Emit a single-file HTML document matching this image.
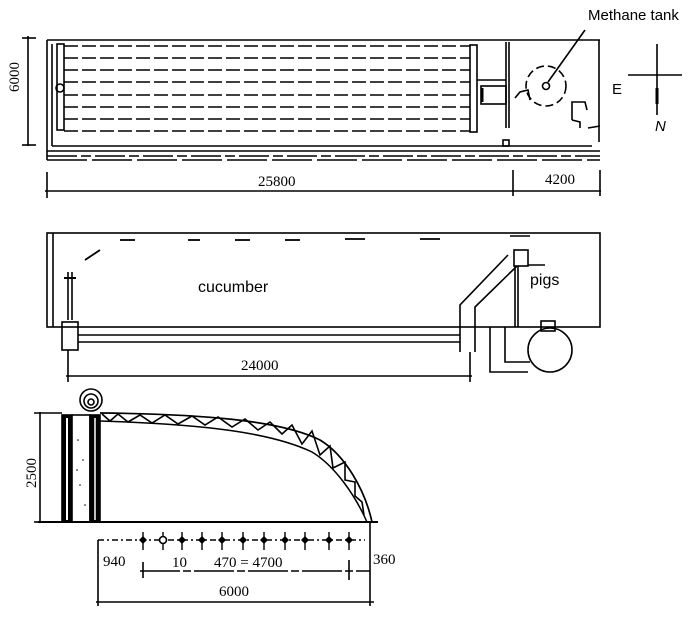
<!DOCTYPE html>
<html><head><meta charset="utf-8"><style>
html,body{margin:0;padding:0;background:#fff;}
svg{display:block;}
.s{font-family:"Liberation Serif",serif;font-size:15px;fill:#000;}
.a{font-family:"Liberation Sans",sans-serif;fill:#000;}
</style></head><body>
<svg width="695" height="619" viewBox="0 0 695 619" xmlns="http://www.w3.org/2000/svg" fill="none" stroke="#000" stroke-width="1.6">
<!-- TOP VIEW -->
<line x1="28" y1="36" x2="28" y2="146"/>
<line x1="22" y1="38" x2="36" y2="38"/><line x1="22" y1="145" x2="36" y2="145"/>
<text class="s" transform="translate(19,92) rotate(-90)" stroke="none">6000</text>
<line x1="47" y1="40" x2="600" y2="40"/>
<line x1="47" y1="40" x2="47" y2="160"/>
<line x1="599" y1="40" x2="599" y2="142"/>
<line x1="52" y1="44" x2="52" y2="146"/>
<line x1="52" y1="146" x2="592" y2="146"/>
<line x1="47" y1="151" x2="600" y2="151"/>
<line x1="47" y1="156" x2="600" y2="156" stroke-dasharray="30 4 10 4"/>
<line x1="47" y1="160" x2="600" y2="160" stroke-dasharray="40 5"/>
<rect x="57" y="44" width="7" height="86"/>
<circle cx="60" cy="88" r="4"/>
<g stroke-dasharray="14 4" stroke-width="1.6">
<line x1="64" y1="46" x2="470" y2="46"/><line x1="64" y1="58" x2="470" y2="58"/>
<line x1="64" y1="70" x2="470" y2="70"/><line x1="64" y1="82" x2="470" y2="82"/>
<line x1="64" y1="95" x2="470" y2="95"/><line x1="64" y1="107" x2="470" y2="107"/>
<line x1="64" y1="119" x2="470" y2="119"/><line x1="64" y1="131" x2="470" y2="131"/>
</g>
<rect x="470" y="45" width="7" height="87"/>
<line x1="506" y1="42" x2="506" y2="128"/><line x1="509" y1="42" x2="509" y2="128"/>
<line x1="477" y1="80" x2="506" y2="80"/>
<rect x="481" y="86" width="25" height="18"/>
<line x1="482" y1="88" x2="482" y2="102" stroke-width="3"/>
<rect x="503" y="140" width="6" height="6"/>
<circle cx="546" cy="86" r="20" stroke-dasharray="8 4"/>
<circle cx="546" cy="86" r="3.5"/>
<line x1="548" y1="82" x2="585" y2="30"/>
<path d="M515 98 L520 92 L528 90 L530 100"/>
<path d="M572 120 L572 102 L585 102 L587 110 M572 120 L580 122 L580 128 M588 128 L600 126"/>
<text class="a" x="588" y="20" font-size="15" stroke="none">Methane tank</text>
<text class="a" x="612" y="94" font-size="15" stroke="none">E</text>
<line x1="628" y1="75" x2="682" y2="75"/>
<line x1="657" y1="44" x2="657" y2="115"/>
<line x1="657" y1="88" x2="657" y2="104" stroke-width="3"/>
<text class="a" x="655" y="131" font-size="15" font-style="italic" stroke="none">N</text>
<line x1="45" y1="191" x2="601" y2="191"/>
<line x1="47" y1="172" x2="47" y2="198"/><line x1="513" y1="170" x2="513" y2="196"/><line x1="600" y1="170" x2="600" y2="196"/>
<text class="s" x="258" y="186" stroke="none">25800</text>
<text class="s" x="545" y="184" stroke="none">4200</text>

<!-- SIDE VIEW -->
<rect x="47" y="233" width="553" height="94"/>
<line x1="53" y1="233" x2="53" y2="327"/>
<g stroke-width="1.8">
<line x1="120" y1="240" x2="135" y2="240"/><line x1="188" y1="240" x2="200" y2="240"/>
<line x1="235" y1="240" x2="250" y2="240"/><line x1="285" y1="240" x2="300" y2="240"/>
<line x1="345" y1="239" x2="365" y2="239"/><line x1="420" y1="239" x2="440" y2="239"/>
<path d="M85 260 L100 250"/>
</g>
<line x1="68" y1="272" x2="68" y2="320"/><line x1="72" y1="272" x2="72" y2="320"/>
<line x1="64" y1="278" x2="76" y2="278" stroke-width="2"/>
<rect x="62" y="322" width="16" height="28"/>
<line x1="78" y1="335" x2="460" y2="335"/>
<line x1="78" y1="342" x2="460" y2="342"/>
<path d="M460 352 L460 305 L508 255"/>
<path d="M475 352 L475 307 L517 266"/>
<line x1="515" y1="266" x2="515" y2="327"/><line x1="518" y1="266" x2="518" y2="327"/>
<rect x="514" y="250" width="14" height="16"/>
<line x1="528" y1="265" x2="545" y2="265"/>
<line x1="510" y1="236" x2="530" y2="236"/>
<text class="a" x="198" y="292" font-size="16" stroke="none">cucumber</text>
<text class="a" x="530" y="285" font-size="16" stroke="none">pigs</text>
<path d="M490 327 L490 372 L528 372"/>
<path d="M505 327 L505 362 L530 362"/>
<circle cx="550" cy="350" r="22"/>
<rect x="541" y="321" width="14" height="10"/>
<line x1="66" y1="376" x2="472" y2="376"/>
<line x1="68" y1="350" x2="68" y2="382"/><line x1="470" y1="352" x2="470" y2="382"/>
<text class="s" x="241" y="370" stroke="none">24000</text>

<!-- SECTION -->
<line x1="40" y1="412" x2="40" y2="522"/>
<line x1="34" y1="413" x2="62" y2="413"/><line x1="34" y1="522" x2="44" y2="522"/>
<text class="s" transform="translate(36,488) rotate(-90)" stroke="none">2500</text>
<rect x="62" y="415" width="10" height="107" fill="#000"/>
<rect x="72" y="415" width="18" height="107" fill="#fff"/>
<rect x="90" y="415" width="10" height="107" fill="#000"/>
<line x1="67" y1="418" x2="67" y2="520" stroke="#fff" stroke-width="2"/>
<line x1="95" y1="418" x2="95" y2="520" stroke="#fff" stroke-width="1.5"/>
<g stroke="none" fill="#000"><circle cx="78" cy="440" r="0.8"/><circle cx="83" cy="460" r="0.8"/><circle cx="80" cy="485" r="0.8"/><circle cx="85" cy="505" r="0.8"/><circle cx="77" cy="470" r="0.8"/></g>
<circle cx="91" cy="400" r="11"/>
<circle cx="91" cy="401" r="7"/>
<circle cx="91" cy="402" r="3"/>
<line x1="38" y1="522" x2="378" y2="522" stroke-width="2"/>
<path d="M100 413 C200 414 280 420 320 440 C345 455 365 490 372 522" stroke-width="1.7"/>
<path d="M100 421 C200 424 270 432 312 452 C335 466 355 495 367 522" stroke-width="1.5"/>
<path d="M102 414 L110 421 L118 414 L128 422 L140 415 L152 423 L165 415 L178 424 L192 416 L205 425 L218 417 L232 427 L245 419 L258 430 L270 422 L282 434 L292 425 L302 444 L312 431 L320 455 L330 446 L333 468 L345 462 L345 480 L355 482 L355 496 L362 502 L364 515"/>
<line x1="98" y1="540" x2="365" y2="540" stroke-dasharray="6 3 2 3"/>
<g stroke-width="1.4">
<line x1="143" y1="532" x2="143" y2="550"/><line x1="163" y1="532" x2="163" y2="550"/>
<line x1="182" y1="532" x2="182" y2="550"/><line x1="202" y1="532" x2="202" y2="550"/>
<line x1="222" y1="532" x2="222" y2="550"/><line x1="243" y1="532" x2="243" y2="550"/>
<line x1="264" y1="532" x2="264" y2="550"/><line x1="285" y1="532" x2="285" y2="550"/>
<line x1="305" y1="532" x2="305" y2="550"/><line x1="329" y1="532" x2="329" y2="550"/>
<line x1="349" y1="532" x2="349" y2="550"/>
</g>
<g fill="#000" stroke="none">
<path d="M143 536l4 4-4 4-4-4z"/><circle cx="163" cy="540" r="3.5" fill="#fff" stroke="#000"/>
<path d="M182 536l4 4-4 4-4-4z"/><path d="M202 536l4 4-4 4-4-4z"/>
<path d="M222 536l4 4-4 4-4-4z"/><path d="M243 536l4 4-4 4-4-4z"/>
<path d="M264 536l4 4-4 4-4-4z"/><path d="M285 536l4 4-4 4-4-4z"/>
<path d="M305 536l4 4-4 4-4-4z"/><path d="M329 536l4 4-4 4-4-4z"/>
<path d="M349 536l4 4-4 4-4-4z"/>
</g>
<line x1="98" y1="540" x2="98" y2="606"/>
<line x1="370" y1="522" x2="370" y2="606"/>
<line x1="140" y1="571" x2="370" y2="571" stroke-dasharray="40 3 8 3"/>
<line x1="143" y1="562" x2="143" y2="578"/><line x1="349" y1="560" x2="349" y2="580"/>
<text class="s" x="103" y="566" font-size="16" stroke="none">940</text>
<text class="s" x="172" y="567" stroke="none">10</text>
<text class="s" x="214" y="567" stroke="none">470 = 4700</text>
<text class="s" x="373" y="564" stroke="none">360</text>
<line x1="96" y1="602" x2="374" y2="602"/>
<text class="s" x="219" y="596" stroke="none">6000</text>
</svg>
</body></html>
